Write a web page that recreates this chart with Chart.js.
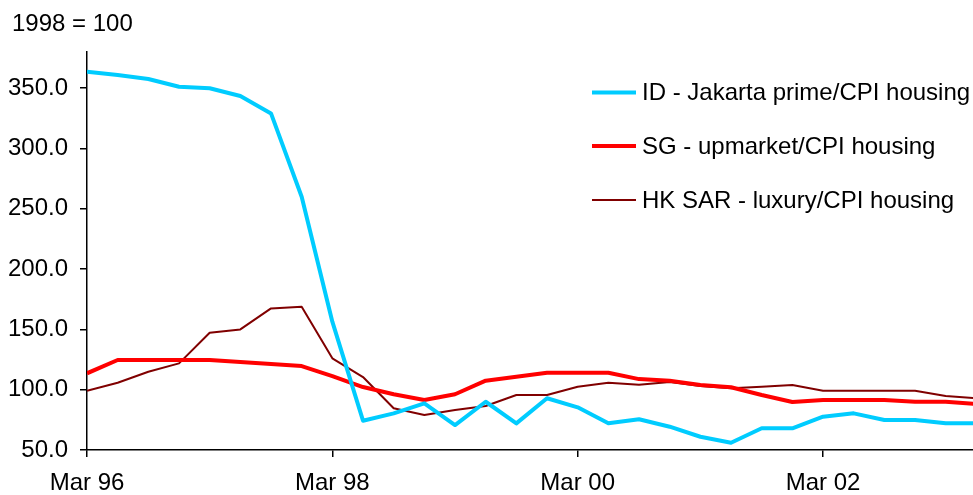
<!DOCTYPE html>
<html>
<head>
<meta charset="utf-8">
<style>
  html, body { margin: 0; padding: 0; background: #fff; }
  #wrap { width: 973px; height: 495px; }
</style>
</head>
<body>
<div id="wrap"><canvas id="housingChart"></canvas></div>

<script src="https://cdn.jsdelivr.net/npm/chart.js"></script>
<script>
// quarterly, Mar 96 .. Jun 03 (the last one runs off the right edge)
const quarters = [
  'Mar 96', 'Jun 96', 'Sep 96', 'Dec 96',
  'Mar 97', 'Jun 97', 'Sep 97', 'Dec 97',
  'Mar 98', 'Jun 98', 'Sep 98', 'Dec 98',
  'Mar 99', 'Jun 99', 'Sep 99', 'Dec 99',
  'Mar 00', 'Jun 00', 'Sep 00', 'Dec 00',
  'Mar 01', 'Jun 01', 'Sep 01', 'Dec 01',
  'Mar 02', 'Jun 02', 'Sep 02', 'Dec 02',
  'Mar 03', 'Jun 03'
];

const jakarta = [
  363.7, 360.9, 357.6, 351.2, 349.9, 343.5, 329.1, 260.0,
  156.4, 74.3, 80.4, 88.7, 70.7, 90.0, 72.1, 92.9,
  85.4, 72.1, 75.5, 69.3, 61.0, 56.0, 68.0, 68.0,
  77.6, 80.4, 74.9, 74.9, 72.1, 72.1
];

const singapore = [
  113.6, 124.6, 124.6, 124.6, 124.6, 123.0, 121.3, 119.6,
  111.3, 102.2, 96.2, 91.5, 96.2, 107.5, 110.8, 114.1,
  114.1, 114.1, 108.8, 107.5, 103.9, 102.0, 95.6, 89.8,
  91.5, 91.5, 91.5, 90.0, 90.0, 88.1
];

const hongKong = [
  99.2, 105.8, 114.9, 121.8, 147.2, 150.0, 167.4, 168.8,
  126.0, 110.5, 84.6, 79.0, 83.2, 86.5, 95.6, 95.6,
  102.5, 105.8, 104.2, 106.4, 103.0, 101.1, 102.5, 103.9,
  99.2, 99.2, 99.2, 99.2, 94.8, 92.9
];

const seriesNames = [
  'ID - Jakarta prime/CPI housing',
  'SG - upmarket/CPI housing',
  'HK SAR - luxury/CPI housing'
];

const xTicks = [0, 8, 16, 24];
const yTicks = [50, 100, 150, 200, 250, 300, 350];

const FONT = '"Liberation Sans", Arial, sans-serif';

function toPoints(values) {
  return values.map((v, i) => ({ x: i, y: v }));
}

// title top-left and the legend drawn inside the plot, like the original
const decorations = {
  id: 'decorations',
  afterDraw(chart) {
    const ctx = chart.ctx;
    ctx.save();
    ctx.fillStyle = '#000';
    ctx.font = '24px ' + FONT;
    ctx.textAlign = 'left';
    ctx.textBaseline = 'middle';
    ctx.fillText('1998 = 100', 12, 24);

    const rows = [92.5, 146, 200];
    chart.data.datasets.forEach((ds, i) => {
      const y = rows[i];
      ctx.strokeStyle = ds.borderColor;
      ctx.lineWidth = ds.borderWidth;
      ctx.beginPath();
      ctx.moveTo(592, y);
      ctx.lineTo(636, y);
      ctx.stroke();
      ctx.fillText(ds.label, 642, y + 1);
    });
    ctx.restore();
  }
};

const ctx = document.getElementById('housingChart').getContext('2d');

new Chart(ctx, {
  type: 'line',
  data: {
    datasets: [
      {
        label: seriesNames[0],
        data: toPoints(jakarta),
        borderColor: '#00CCFF',
        borderWidth: 4
      },
      {
        label: seriesNames[1],
        data: toPoints(singapore),
        borderColor: '#FF0000',
        borderWidth: 4
      },
      {
        label: seriesNames[2],
        data: toPoints(hongKong),
        borderColor: '#800000',
        borderWidth: 2
      }
    ]
  },
  options: {
    responsive: true,
    maintainAspectRatio: false,
    animation: false,
    layout: { padding: { top: 52, right: 0, left: 0, bottom: 0 } },
    elements: {
      point: { radius: 0 },
      line: { tension: 0, borderJoinStyle: 'round' }
    },
    plugins: {
      legend: { display: false },
      tooltip: { enabled: false }
    },
    scales: {
      x: {
        type: 'linear',
        min: 0,
        max: 28.89,
        afterBuildTicks(scale) {
          scale.ticks = xTicks.map(v => ({ value: v }));
        },
        afterFit(scale) {
          scale.height = 45;
          scale.paddingRight = 0;
        },
        grid: {
          drawOnChartArea: false,
          drawTicks: true,
          tickLength: 7,
          color: '#000',
          lineWidth: 1.5
        },
        border: { display: true, color: '#000', width: 1.5 },
        ticks: {
          autoSkip: false,
          maxRotation: 0,
          padding: 12,
          color: '#000',
          font: { family: FONT, size: 24 },
          callback: (value) => quarters[value]
        }
      },
      y: {
        min: 50,
        max: 380,
        afterBuildTicks(scale) {
          scale.ticks = yTicks.map(v => ({ value: v }));
        },
        afterFit(scale) {
          scale.width = 87;
          scale.paddingTop = 0;
          scale.paddingBottom = 0;
        },
        grid: {
          drawOnChartArea: false,
          drawTicks: true,
          tickLength: 7,
          color: '#000',
          lineWidth: 1.5
        },
        border: { display: true, color: '#000', width: 1.5 },
        ticks: {
          padding: 12,
          color: '#000',
          font: { family: FONT, size: 24 },
          callback: (value) => Number(value).toFixed(1)
        }
      }
    }
  },
  plugins: [decorations]
});
</script>
</body>
</html>
